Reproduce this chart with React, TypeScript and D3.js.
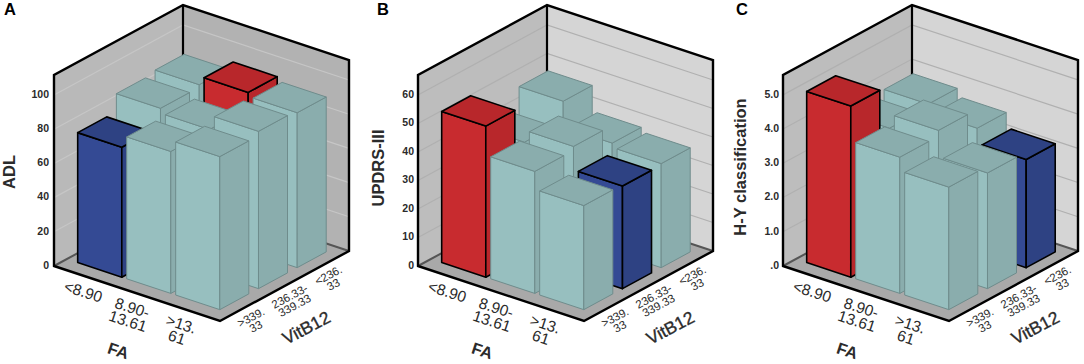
import React from "react";
import * as d3 from "d3";

const faLabels = [["<8.90"], ["8.90-", "13.61"], [">13.", "61"]];
const vitLabels = [[">339.", "33"], ["236.33-", "339.33"], ["<236.", "33"]];

// rows are VitB12 front to back, columns are FA left to right
const adlValues = [
    [76, 83, 89.5],
    [86.5, 83.6, 92],
    [88, 93, 90.6],
];
const updrsValues = [
    [53, 42.8, 36.5],
    [40, 44.2, 36],
    [47, 38, 36.5],
];
const hyValues = [
    [5.0, 3.98, 3.58],
    [3.74, 4.15, 3.38],
    [3.83, 3.6, 3.16],
];

const adlTicks = [0, 20, 40, 60, 80, 100];
const updrsTicks = [0, 10, 20, 30, 40, 50, 60];
const hyTicks = [0, 1, 2, 3, 4, 5];

const palette = {
    teal: { front: "#97bfbf", side: "#8aadad", top: "#8aadad", edge: "#6f8c8c", width: 1 },
    red: { front: "#c82b2f", side: "#b8272b", top: "#b8272b", edge: "#000", width: 1.6 },
    blue: { front: "#344a94", side: "#2e4283", top: "#2e4283", edge: "#000", width: 1.6 },
};

const panels = [
    {
        letter: "A", letterX: 10, title: "ADL", titleX: 11, titleY: 172, tickX: 49, dx: 0,
        values: adlValues, ticks: adlTicks, zMax: 111.7, fmt: (d: number) => String(d),
        red: [1, 2], blue: [0, 0], left: "#b9b9b9", back: "#b2b2b2", grid: "#c6c6c6",
    },
    {
        letter: "B", letterX: 383, title: "UPDRS-III", titleX: 380, titleY: 168, tickX: 414, dx: 364,
        values: updrsValues, ticks: updrsTicks, zMax: 67, fmt: (d: number) => String(d),
        red: [0, 0], blue: [2, 1], left: "#bdbdbd", back: "#d5d5d5", grid: "#b0b0b0",
    },
    {
        letter: "C", letterX: 742, title: "H-Y classification", titleX: 742, titleY: 167, tickX: 779, dx: 729,
        values: hyValues, ticks: hyTicks, zMax: 5.58, fmt: (d: number) => (d === 0 ? ".0" : d.toFixed(1)),
        red: [0, 0], blue: [2, 2], left: "#bdbdbd", back: "#d5d5d5", grid: "#b0b0b0",
    },
];

const font = "'Liberation Sans', Arial, sans-serif";
const line = d3.line();

const Panel = ({ p }: { p: (typeof panels)[number] }) => {
    const idx = [0, 1, 2];
    const u = d3.scaleBand<number>().domain(idx).range([0.065, 0.921]).paddingInner(0.1);
    const v = d3.scaleBand<number>().domain(idx).range([0.1, 0.925]).paddingInner(0.25);
    const z = d3.scaleLinear().domain([0, p.zMax]).range([0, 191]);

    // oblique projection of the box: a along FA, b along VitB12, h in pixels up
    const pt = (a: number, b: number, h = 0): [number, number] => [
        54 + 166 * a + 129 * b,
        266 + 55 * a - 70 * b - h,
    ];
    const poly = (pts: [number, number][]) => line(pts) + "Z";

    const bars: React.ReactNode[] = [];
    for (let r = 2; r >= 0; r--) {
        for (let c = 0; c < 3; c++) {
            const a0 = u(c) as number;
            const a1 = a0 + u.bandwidth();
            const b0 = v(r) as number;
            const b1 = b0 + v.bandwidth();
            const h = z(p.values[r][c]);
            const col =
                p.red[0] === c && p.red[1] === r ? palette.red
                : p.blue[0] === c && p.blue[1] === r ? palette.blue
                : palette.teal;
            const s = { stroke: col.edge, strokeWidth: col.width, strokeLinejoin: "round" as const };
            bars.push(
                <g key={`${r}-${c}`}>
                    <path d={poly([pt(a0, b0), pt(a1, b0), pt(a1, b0, h), pt(a0, b0, h)])} fill={col.front} {...s} />
                    <path d={poly([pt(a1, b0), pt(a1, b1), pt(a1, b1, h), pt(a1, b0, h)])} fill={col.side} {...s} />
                    <path d={poly([pt(a0, b0, h), pt(a1, b0, h), pt(a1, b1, h), pt(a0, b1, h)])} fill={col.top} {...s} />
                </g>
            );
        }
    }

    const textBase = { fontFamily: font, fill: "#2b2b2b" };

    return (
        <g>
            <g transform={`translate(${p.dx},0)`}>
                <path d={poly([pt(0, 0), pt(0, 1), pt(0, 1, 191), pt(0, 0, 191)])} fill={p.left} />
                <path d={poly([pt(0, 1), pt(1, 1), pt(1, 1, 191), pt(0, 1, 191)])} fill={p.back} />
                <path d={poly([pt(0, 0), pt(1, 0), pt(1, 1), pt(0, 1)])} fill="#a9a9a9" />
                {p.ticks.filter((t) => t > 0).map((t) => (
                    <path
                        key={t}
                        d={line([pt(0, 0, z(t)), pt(0, 1, z(t)), pt(1, 1, z(t))]) as string}
                        fill="none"
                        stroke={p.grid}
                        strokeWidth={1.2}
                    />
                ))}
                <path d={line([pt(0, 0), pt(0, 1), pt(1, 1)]) as string} fill="none" stroke="#555" strokeWidth={2} />
                <path d={line([pt(0, 1), pt(0, 1, 191)]) as string} fill="none" stroke="#000" strokeWidth={2.2} />
                {bars}
                <path
                    d={line([pt(0, 0), pt(1, 0), pt(1, 1), pt(1, 1, 191), pt(0, 1, 191), pt(0, 0, 191)]) + "Z"}
                    fill="none"
                    stroke="#000"
                    strokeWidth={2.4}
                    strokeLinejoin="miter"
                />
                {faLabels.map((lines, i) => {
                    const [x, y] = pt((u(i) as number) + u.bandwidth() / 2, 0);
                    return (
                        <text
                            key={i}
                            transform={`translate(${x - 4},${y + 16}) rotate(18)`}
                            textAnchor="middle"
                            dominantBaseline="middle"
                            fontSize={15.5}
                            {...textBase}
                        >
                            {lines.map((l, j) => (
                                <tspan key={j} x={0} dy={j === 0 ? 0 : 14}>{l}</tspan>
                            ))}
                        </text>
                    );
                })}
                {vitLabels.map((lines, i) => {
                    const [x, y] = pt(1, (v(i) as number) + v.bandwidth() / 2);
                    return (
                        <text
                            key={i}
                            transform={`translate(${x + 4},${y + 12}) rotate(-28)`}
                            textAnchor="middle"
                            dominantBaseline="middle"
                            fontSize={11.5}
                            {...textBase}
                        >
                            {lines.map((l, j) => (
                                <tspan key={j} x={0} dy={j === 0 ? 0 : 10.5}>{l}</tspan>
                            ))}
                        </text>
                    );
                })}
                <text transform="translate(118,352) rotate(18)" textAnchor="middle" dominantBaseline="middle"
                    fontSize={16.5} fontWeight={700} {...textBase}>FA</text>
                <text transform="translate(307,329) rotate(-28)" textAnchor="middle" dominantBaseline="middle"
                    fontSize={17.5} stroke="#2b2b2b" strokeWidth={0.35} {...textBase}>VitB12</text>
            </g>
            {p.ticks.map((t) => (
                <text
                    key={t}
                    x={p.tickX}
                    y={pt(0, 0, z(t))[1]}
                    textAnchor="end"
                    dominantBaseline="middle"
                    fontSize={10.5}
                    fontWeight={700}
                    {...textBase}
                >
                    {p.fmt(t)}
                </text>
            ))}
            <text
                transform={`translate(${p.titleX},${p.titleY}) rotate(-90)`}
                textAnchor="middle"
                dominantBaseline="middle"
                fontSize={16.5}
                fontWeight={700}
                {...textBase}
            >
                {p.title}
            </text>
            <text x={p.letterX} y={11} textAnchor="middle" dominantBaseline="middle" fontSize={16.5} fontWeight={700} fontFamily={font} fill="#000">
                {p.letter}
            </text>
        </g>
    );
};

const App = () => (
    <svg width={1084} height={364} style={{ position: "absolute", left: 0, top: 0, background: "#fff" }}>
        {panels.map((p) => (
            <Panel key={p.letter} p={p} />
        ))}
    </svg>
);

export default App;
